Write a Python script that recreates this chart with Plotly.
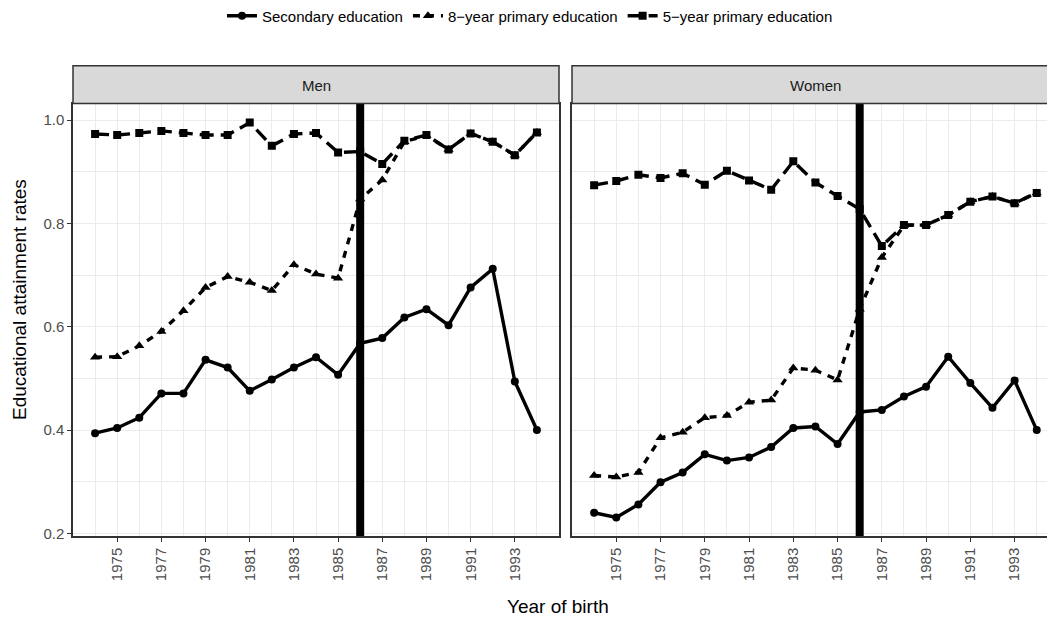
import plotly.graph_objects as go

years = list(range(1974, 1995))

men_secondary = [0.394, 0.404, 0.424, 0.471, 0.471, 0.536, 0.521, 0.476, 0.498, 0.521, 0.541,
                 0.507, 0.568, 0.578, 0.618, 0.634, 0.603, 0.676, 0.712, 0.494, 0.400]
men_primary8 = [0.541, 0.542, 0.563, 0.591, 0.631, 0.676, 0.697, 0.686, 0.670, 0.720, 0.702,
                0.694, 0.847, 0.884, 0.958, 0.970, 0.943, 0.974, 0.958, 0.932, 0.976]
men_primary5 = [0.973, 0.971, 0.975, 0.979, 0.975, 0.971, 0.971, 0.995, 0.950, 0.973, 0.975,
                0.937, 0.939, 0.915, 0.960, 0.971, 0.943, 0.974, 0.958, 0.932, 0.976]

women_secondary = [0.240, 0.231, 0.256, 0.299, 0.318, 0.353, 0.341, 0.347, 0.367, 0.404, 0.407,
                   0.373, 0.435, 0.439, 0.465, 0.484, 0.542, 0.491, 0.443, 0.496, 0.400]
women_primary8 = [0.312, 0.309, 0.318, 0.385, 0.396, 0.424, 0.428, 0.454, 0.458, 0.520, 0.516,
                  0.497, 0.634, 0.734, 0.796, 0.797, 0.816, 0.842, 0.852, 0.839, 0.859]
women_primary5 = [0.874, 0.882, 0.894, 0.888, 0.897, 0.875, 0.902, 0.883, 0.865, 0.920, 0.879,
                  0.853, 0.828, 0.756, 0.797, 0.797, 0.816, 0.842, 0.852, 0.839, 0.859]

series_names = ["Secondary education", "8\u2212year primary education", "5\u2212year primary education"]
panels = ["Men", "Women"]
reform_year = [1986]
x_ticks = list(range(1975, 1994, 2))
y_ticks = [0.2, 0.4, 0.6, 0.8, 1.0]

FONT = "Liberation Sans, Arial, Helvetica, sans-serif"
styles = [
    dict(dash="solid", symbol="circle", size=8),
    dict(dash="7px,7px", symbol="triangle-up", size=9),
    dict(dash="14px,7px", symbol="square", size=8),
]

fig = go.Figure()
data = [
    [men_secondary, men_primary8, men_primary5],
    [women_secondary, women_primary8, women_primary5],
]
for p, panel_data in enumerate(data):
    xa = "x" if p == 0 else "x2"
    ya = "y" if p == 0 else "y2"
    for s, vals in enumerate(panel_data):
        st = styles[s]
        fig.add_trace(go.Scatter(
            x=years, y=vals, mode="lines+markers", name=series_names[s],
            legendgroup=series_names[s], showlegend=(p == 0),
            line=dict(color="black", width=3.4, dash=st["dash"]),
            marker=dict(color="black", symbol=st["symbol"], size=st["size"]),
            xaxis=xa, yaxis=ya,
        ))
    fig.add_trace(go.Scatter(
        x=[reform_year[0], reform_year[0]], y=[0.19, 1.04], mode="lines",
        line=dict(color="black", width=8), showlegend=False, hoverinfo="skip",
        xaxis=xa, yaxis=ya,
    ))

OFF = 8  # page body margin
W, H = 1055 - OFF, 619 - OFF
ml, mr, mt, mb = 73 - OFF, 0, 66 - OFF, 83
pw = W - ml - mr
ph = H - mt - mb


def px_x(sx):
    return (sx - OFF - ml) / pw


def px_y(sy):
    return (H - mb - (sy - OFF)) / ph


left_dom = [0, px_x(559)]
right_dom = [px_x(572), 1.0]
ydom_top = px_y(103.5)
right_max = 1973 + (1055 - 572) / 22.13

grid = "#EBEBEB"
xcommon = dict(
    tickmode="array", tickvals=x_ticks, ticktext=[str(t) for t in x_ticks],
    tickangle=-90, ticks="outside", ticklen=4, tickcolor="#333333", tickwidth=1,
    tickfont=dict(family=FONT, size=15, color="#4D4D4D"),
    showgrid=True, gridcolor=grid, gridwidth=1.3,
    minor=dict(tickmode="array", tickvals=years, showgrid=True, gridcolor=grid, gridwidth=0.7, ticks=""),
    showline=True, linecolor="#333333", linewidth=1.5, mirror=True,
    zeroline=False, automargin=False,
)
ycommon = dict(
    range=[0.195, 1.032], tickmode="array", tickvals=y_ticks,
    ticktext=["0.2", "0.4", "0.6", "0.8", "1.0"],
    ticks="outside", ticklen=4, tickcolor="#333333", tickwidth=1,
    tickfont=dict(family=FONT, size=15, color="#4D4D4D"),
    showgrid=True, gridcolor=grid, gridwidth=1.3,
    minor=dict(tickmode="array", tickvals=[0.3, 0.5, 0.7, 0.9], showgrid=True, gridcolor=grid, gridwidth=0.7, ticks=""),
    showline=True, linecolor="#333333", linewidth=1.5,
    zeroline=False, domain=[0, ydom_top], automargin=False,
)

fig.update_layout(
    width=W, height=H,
    margin=dict(l=ml, r=mr, t=mt, b=mb, autoexpand=False),
    paper_bgcolor="white", plot_bgcolor="white",
    font=dict(family=FONT, color="black"),
    xaxis=dict(xcommon, domain=left_dom, range=[1973, 1995], anchor="y"),
    xaxis2=dict(xcommon, domain=right_dom, range=[1973, right_max], anchor="y2"),
    yaxis=dict(ycommon, anchor="x", mirror=True),
    yaxis2=dict(ycommon, anchor="x2", showticklabels=False, ticks=""),
    legend=dict(orientation="h", x=px_x(530), xanchor="center",
                y=px_y(16), yanchor="middle",
                font=dict(family=FONT, size=15, color="black"),
                tracegroupgap=0, bgcolor="rgba(0,0,0,0)"),
    showlegend=True,
)

for dom, label, cx in [(left_dom, panels[0], (73 + 559) / 2), (right_dom, panels[1], (572 + 1058.5) / 2)]:
    fig.add_shape(type="rect", xref="paper", yref="paper",
                  x0=dom[0], x1=dom[1] + (0.01 if dom[1] >= 1 else 0), y0=ydom_top, y1=px_y(65.7),
                  fillcolor="#D9D9D9", line=dict(color="#333333", width=1.5), layer="above")
    fig.add_annotation(x=px_x(cx), y=px_y(85), xref="paper", yref="paper",
                       text=label, showarrow=False, xanchor="center", yanchor="middle",
                       font=dict(family=FONT, size=15, color="#1A1A1A"))

fig.add_annotation(x=px_x(558), y=px_y(606), xref="paper", yref="paper",
                   text="Year of birth", showarrow=False, xanchor="center", yanchor="middle",
                   font=dict(family=FONT, size=19, color="black"))
fig.add_annotation(x=px_x(19), y=px_y(300), xref="paper", yref="paper",
                   text="Educational attainment rates", showarrow=False, textangle=-90,
                   xanchor="center", yanchor="middle",
                   font=dict(family=FONT, size=19, color="black"))

fig.write_html("out.html")
